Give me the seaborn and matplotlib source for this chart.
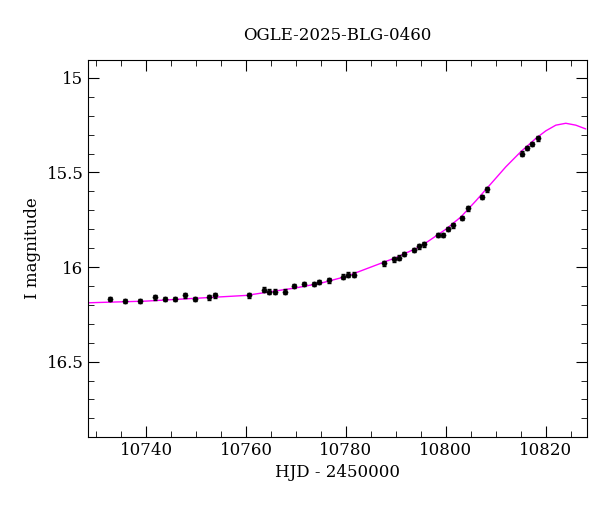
import matplotlib
matplotlib.use("Agg")
import matplotlib.pyplot as plt
from matplotlib.ticker import MultipleLocator
import seaborn as sns
import pandas as pd

hjd = [10732.8,10735.8,10738.8,10741.8,10743.8,10745.8,10747.8,10749.8,10752.6,10753.8,
       10760.6,10763.6,10764.6,10765.8,10767.8,10769.6,10771.6,10773.6,10774.6,10776.6,
       10779.4,10780.4,10781.6,10787.6,10789.6,10790.6,10791.6,10793.6,10794.6,10795.6,
       10798.4,10799.4,10800.4,10801.4,10803.2,10804.4,10807.2,10808.2,10815.2,10816.2,
       10817.2,10818.4]
mag = [16.17,16.18,16.18,16.16,16.17,16.17,16.15,16.17,16.16,16.15,
       16.15,16.12,16.13,16.13,16.13,16.10,16.09,16.09,16.08,16.07,
       16.05,16.04,16.04,15.98,15.96,15.95,15.93,15.91,15.89,15.88,
       15.83,15.83,15.80,15.78,15.74,15.69,15.63,15.59,15.40,15.37,
       15.35,15.32]
err = 0.012

model_t = [10727,10740,10750,10760,10770,10775,10780,10785,10790,10795,10800,10803,10806,
           10809,10812,10815,10818,10820,10822,10824,10826,10828]
model_m = [16.19,16.18,16.165,16.15,16.11,16.085,16.05,16.00,15.95,15.89,15.80,15.735,15.65,
           15.56,15.47,15.39,15.32,15.28,15.25,15.24,15.25,15.27]

sns.set_style("ticks")
plt.rcParams.update({"font.family": "DejaVu Serif", "text.color": "black",
                     "axes.labelcolor": "black", "xtick.color": "black",
                     "ytick.color": "black", "axes.edgecolor": "black"})
fig, ax = plt.subplots(figsize=(6, 5.12), dpi=100)
fig.subplots_adjust(left=0.147, right=0.978, top=0.883, bottom=0.147)

sns.lineplot(x=model_t, y=model_m, ax=ax, color="magenta", lw=1, sort=False)
df = pd.DataFrame({"t": hjd, "m": mag})
ax.errorbar(df.t, df.m, yerr=err, fmt="none", ecolor="black", elinewidth=0.8, capsize=1.5)
sns.scatterplot(data=df, x="t", y="m", ax=ax, color="black", s=14, marker="o", edgecolor="black", zorder=3)

ax.set_xlim(10728.4, 10828.2)
ax.set_ylim(16.897, 14.905)
ax.xaxis.set_major_locator(MultipleLocator(20))
ax.xaxis.set_minor_locator(MultipleLocator(5))
ax.yaxis.set_major_locator(MultipleLocator(0.5))
ax.yaxis.set_minor_locator(MultipleLocator(0.1))
ax.yaxis.set_major_formatter(matplotlib.ticker.FuncFormatter(lambda v, p: f"{v:g}"))
ax.tick_params(which="both", direction="in", top=True, right=True, labelsize=12)
ax.tick_params(which="major", length=8)
ax.tick_params(which="minor", length=4)
ax.set_xlabel("HJD - 2450000", fontsize=12)
ax.set_ylabel("I magnitude", fontsize=12)
ax.set_title("OGLE-2025-BLG-0460", fontsize=12, pad=14)
fig.savefig("out.png")
